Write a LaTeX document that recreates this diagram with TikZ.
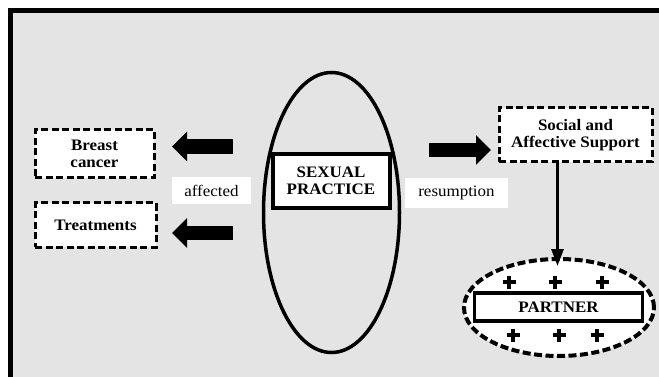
\documentclass[tikz,border=0pt]{standalone}
\usepackage{fontspec}
\setmainfont{Liberation Serif}[FakeStretch=1.06]
\usetikzlibrary{shapes.geometric,arrows.meta}
\definecolor{bggray}{HTML}{E4E4E4}
\tikzset{
  dashbox/.style={draw, line width=3pt, dash pattern=on 7pt off 3.5pt, fill=white,
    align=center, inner sep=0pt, font=\fontsize{16}{17}\selectfont\bfseries},
  solidbox/.style={draw, line width=4pt, fill=white, align=center, inner sep=0pt,
    font=\fontsize{16}{17.5}\selectfont\bfseries},
  labelbox/.style={fill=white, inner sep=0pt, font=\fontsize{16}{17}\selectfont},
  blockarrow/.style={line width=14.5pt, -{Triangle[width=29pt,length=15pt]}},
  plussign/.style={line width=4.5pt},
}
\begin{document}
\begin{tikzpicture}[x=1pt,y=-1pt]
\useasboundingbox (0,0) rectangle (659,377);
\clip (0,0) rectangle (659,377);
\fill[white] (0,0) rectangle (659,377);
\draw[line width=5pt, fill=bggray] (10.5,10.5) rectangle (680,400);

% central ellipse and box
\node[draw, ellipse, line width=3.5pt, minimum width=136pt, minimum height=280pt, inner sep=0pt] (ell) at (331.5,212.5) {};
\node[solidbox, minimum width=117pt, minimum height=53pt] (sex) at (331,181) {SEXUAL\\PRACTICE};

% left boxes
\node[dashbox, minimum width=119pt, minimum height=48pt] (breast) at (94.5,154) {Breast\\cancer};
\node[dashbox, minimum width=121pt, minimum height=44pt] (treat) at (95.5,225) {Treatments};

% right box
\node[dashbox, minimum width=153pt, minimum height=54pt] (social) at (575.5,135) {Social and\\Affective Support};

% labels
\node[labelbox, minimum width=79pt, minimum height=27pt] (aff) at (211.5,190.5) {affected};
\node[labelbox, minimum width=103pt, minimum height=30pt] (res) at (456.5,193) {resumption};

% block arrows
\coordinate (a1s) at (233,146.5);
\coordinate (a1e) at (172,146.5);
\coordinate (a2s) at (233,233);
\coordinate (a2e) at (172,233);
\coordinate (a3s) at (429,150);
\coordinate (a3e) at (491,150);
\draw[blockarrow] (a1s) -- (a1e);
\draw[blockarrow] (a2s) -- (a2e);
\draw[blockarrow] (a3s) -- (a3e);

% partner
\node[draw, ellipse, line width=4pt, dash pattern=on 8pt off 3.5pt, fill=white,
  minimum width=190pt, minimum height=97pt, inner sep=0pt] (pell) at (559,307.5) {};
\node[solidbox, line width=3.5pt, minimum width=168pt, minimum height=28pt] (partner) at (558.5,307) {PARTNER};

\draw[line width=3pt, -{Triangle[width=12pt,length=17pt]}] (social.south -| 557.5,0) -- ([yshift=-9pt]pell.north -| 557.5,0);

\foreach \px/\py in {509/282, 555/282, 602/282, 513/335, 559/335, 597/335}{
  \draw[plussign] (\px-6.5,\py) -- (\px+6.5,\py) (\px,\py-6.5) -- (\px,\py+6.5);
}
\end{tikzpicture}
\end{document}
